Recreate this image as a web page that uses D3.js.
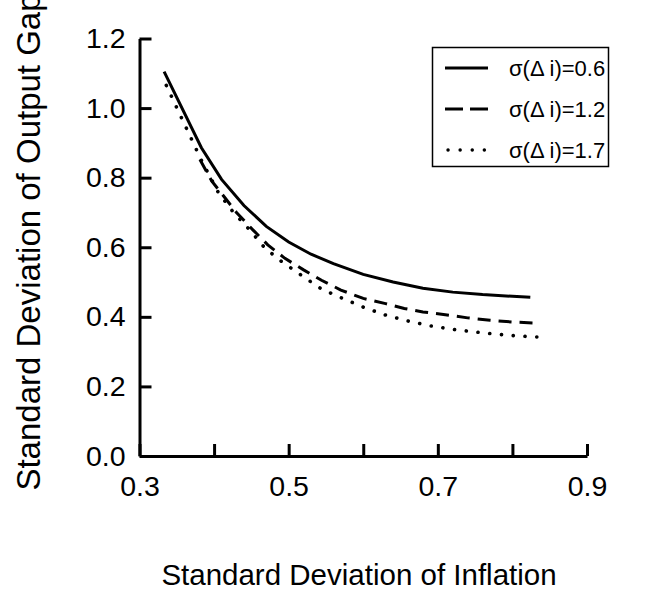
<!DOCTYPE html>
<html>
<head>
<meta charset="utf-8">
<script src="https://cdn.jsdelivr.net/npm/d3@7"></script>
<style>
  body { margin: 0; background: #fff; }
  svg { display: block; font-family: "Liberation Sans", Arial, sans-serif; }
</style>
</head>
<body>
<div class="graph"></div>
<script>
var width = 647
var height = 593;

// curves (x = sd inflation, y = sd output gap)
var solidX = [0.333, 0.383, 0.41, 0.44, 0.47, 0.50, 0.53, 0.56, 0.60, 0.64, 0.68, 0.72, 0.76, 0.80, 0.824];
var solidY = [1.105, 0.886, 0.795, 0.72, 0.66, 0.615, 0.58, 0.553, 0.522, 0.50, 0.482, 0.471, 0.464, 0.459, 0.456];

var dashX = [0.381, 0.397, 0.43, 0.452, 0.472, 0.495, 0.52, 0.544, 0.57, 0.60, 0.63, 0.655, 0.68, 0.71, 0.74, 0.77, 0.80, 0.833];
var dashY = [0.852, 0.79, 0.70, 0.65, 0.607, 0.568, 0.535, 0.505, 0.477, 0.453, 0.438, 0.424, 0.414, 0.406, 0.397, 0.39, 0.385, 0.382];

var dotX = [0.336, 0.383, 0.406, 0.426, 0.446, 0.468, 0.49, 0.52, 0.544, 0.57, 0.60, 0.63, 0.66, 0.69, 0.72, 0.76, 0.80, 0.842];
var dotY = [1.065, 0.85, 0.756, 0.70, 0.654, 0.598, 0.56, 0.515, 0.48, 0.455, 0.428, 0.405, 0.388, 0.374, 0.364, 0.354, 0.346, 0.341];

var seriesNames = ["σ(Δ i)=0.6", "σ(Δ i)=1.2", "σ(Δ i)=1.7"];
var xTicks = [0.3, 0.4, 0.5, 0.6, 0.7, 0.8, 0.9];
var xLabelled = [0.3, 0.5, 0.7, 0.9];
var yTicks = [0.0, 0.2, 0.4, 0.6, 0.8, 1.0, 1.2];

var series = [
  {name: seriesNames[0], xs: solidX, ys: solidY, dash: null, cap: "butt"},
  {name: seriesNames[1], xs: dashX, ys: dashY, dash: "13,8", cap: "butt"},
  {name: seriesNames[2], xs: dotX, ys: dotY, dash: "0.1,11.7", cap: "round"}
];

var svg = d3.select(".graph").append("svg")
  .attr("width", width)
  .attr("height", height);

var x = d3.scaleLinear().domain([0.3, 0.9]).range([139.5, 587]);
var y = d3.scaleLinear().domain([0, 1.2]).range([456, 38.5]);

var xAxis = d3.axisBottom(x)
  .tickValues(xTicks)
  .tickSize(-12)
  .tickSizeOuter(0)
  .tickPadding(20)
  .tickFormat(function (d) { return xLabelled.some(function (v) { return Math.abs(v - d) < 1e-9 }) ? d3.format(".1f")(d) : "" });

var yAxis = d3.axisLeft(y)
  .tickValues(yTicks)
  .tickSize(-12)
  .tickSizeOuter(0)
  .tickPadding(14)
  .tickFormat(d3.format(".1f"));

var gx = svg.append("g")
  .attr("transform", "translate(0," + y(0) + ")")
  .call(xAxis);

var gy = svg.append("g")
  .attr("transform", "translate(" + x(0.3) + ",0)")
  .call(yAxis);

[gx, gy].forEach(function (g) {
  g.selectAll("path, line").attr("stroke", "#000").attr("stroke-width", 3);
  g.selectAll("text").attr("font-size", 28.5).attr("fill", "#000").attr("font-family", "Liberation Sans, Arial, sans-serif");
});

var line = d3.line()
  .x(function (p) { return x(p[0]) })
  .y(function (p) { return y(p[1]) });

svg.append("g")
  .selectAll("path")
  .data(series)
  .enter().append("path")
  .attr("d", function (s) { return line(d3.zip(s.xs, s.ys)) })
  .attr("fill", "none")
  .attr("stroke", "#000")
  .attr("stroke-width", function (s) { return s.cap === "round" ? 3.6 : 3 })
  .attr("stroke-linecap", function (s) { return s.cap })
  .attr("stroke-dasharray", function (s) { return s.dash });

// legend
var legend = svg.append("g");
legend.append("rect")
  .attr("x", 432.5).attr("y", 47.5)
  .attr("width", 176).attr("height", 119)
  .attr("fill", "#fff")
  .attr("stroke", "#000")
  .attr("stroke-width", 1.5);

var legendDash = [null, "18,7", "0.1,12"];
var rows = legend.selectAll("g.row")
  .data(series)
  .enter().append("g")
  .attr("class", "row")
  .attr("transform", function (s, i) { return "translate(0," + (68 + i * 41) + ")" });

rows.append("line")
  .attr("x1", function (s, i) { return i === 2 ? 448 : 445 })
  .attr("x2", 488)
  .attr("stroke", "#000")
  .attr("stroke-width", function (s) { return s.cap === "round" ? 3.4 : 3 })
  .attr("stroke-linecap", function (s) { return s.cap })
  .attr("stroke-dasharray", function (s, i) { return legendDash[i] });

rows.append("text")
  .attr("x", 509)
  .attr("dy", "0.36em")
  .attr("font-size", 22)
  .text(function (s) { return s.name });

// axis titles
svg.append("text")
  .attr("x", 359)
  .attr("y", 585)
  .attr("text-anchor", "middle")
  .attr("font-size", 29.5)
  .text("Standard Deviation of Inflation");

svg.append("text")
  .attr("transform", "translate(40,242) rotate(-90)")
  .attr("text-anchor", "middle")
  .attr("font-size", 33)
  .text("Standard Deviation of Output Gap");
</script>
</body>
</html>
